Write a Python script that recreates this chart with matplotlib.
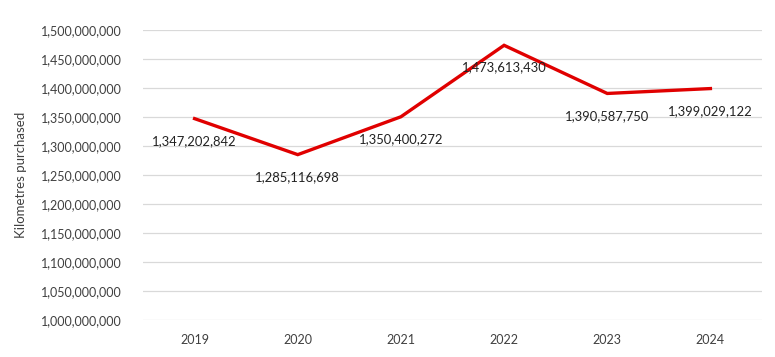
import matplotlib
matplotlib.use("Agg")
import matplotlib.pyplot as plt
from matplotlib.ticker import FuncFormatter

years = ["2019", "2020", "2021", "2022", "2023", "2024"]
km = [1347202842, 1285116698, 1350400272, 1473613430, 1390587750, 1399029122]

plt.rcParams['font.family'] = ['Lato', 'DejaVu Sans']

fig = plt.figure(figsize=(7.75, 3.57), dpi=100)
ax = fig.add_axes([143/775, 1 - 320/357, (762-143)/775, 290/357])

x = list(range(len(years)))
ax.plot(x, km, color='#E00000', lw=2.4, solid_joinstyle='miter', zorder=3)
for xi, v in zip(x, km):
    ax.annotate(f"{v:,}", (xi, v), xytext=(0, -16), textcoords='offset points',
                ha='center', va='center', fontsize=9.4, color='#222222', zorder=4)

ax.set_xlim(-0.5, len(years) - 0.5)
ax.set_ylim(1_000_000_000, 1_500_000_000)
ax.set_yticks(range(1_000_000_000, 1_500_000_001, 50_000_000))
ax.yaxis.set_major_formatter(FuncFormatter(lambda v, p: f"{int(v):,}"))
ax.set_xticks(x)
ax.set_xticklabels(years)
ax.grid(axis='y', color='#d9d9d9', lw=0.9)
ax.set_axisbelow(True)
for s in ax.spines.values():
    s.set_visible(False)
ax.tick_params(length=0, labelsize=9, colors='#404040')
ax.tick_params(axis='y', pad=15)
ax.tick_params(axis='x', pad=10)
ax.set_ylabel("Kilometres purchased", fontsize=9.5, color='#404040', labelpad=10)

fig.savefig("out.png", dpi=100)
